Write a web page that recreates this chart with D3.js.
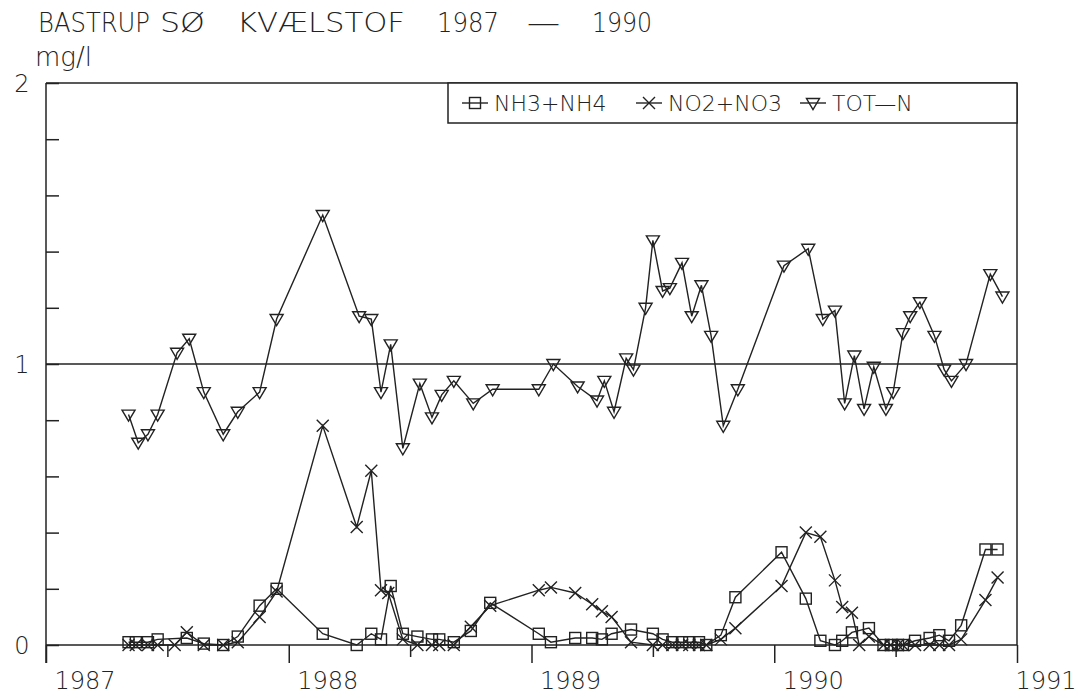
<!DOCTYPE html>
<html><head><meta charset="utf-8">
<script src="https://cdn.jsdelivr.net/npm/d3@7"></script>
<style>
body{margin:0;background:#fff;}
svg{display:block;}
text{font-family:"DejaVu Sans",sans-serif;font-weight:200;fill:#222;}
</style></head>
<body><svg id="c" width="1078" height="698"></svg>
<script>
const titleWords = ["BASTRUP", "SØ", "KVÆLSTOF", "1987", "—", "1990"];
const unitText = "mg/l";
const yTickLabels = [0, 1, 2];
const xTickLabels = [1987, 1988, 1989, 1990, 1991];
const seriesNames = ["NH3+NH4", "NO2+NO3", "TOT—N"];

const totnDates = [1987.34,1987.38,1987.42,1987.46,1987.54,1987.59,1987.65,1987.73,1987.79,1987.88,1987.95,1988.14,1988.29,1988.34,1988.38,1988.42,1988.47,1988.54,1988.59,1988.63,1988.68,1988.76,1988.84,1989.03,1989.09,1989.19,1989.27,1989.30,1989.34,1989.39,1989.42,1989.47,1989.50,1989.54,1989.57,1989.62,1989.66,1989.70,1989.74,1989.79,1989.85,1990.04,1990.14,1990.20,1990.25,1990.29,1990.33,1990.37,1990.41,1990.46,1990.49,1990.53,1990.56,1990.60,1990.66,1990.70,1990.73,1990.79,1990.89,1990.94];
const totnValues = [0.82,0.72,0.75,0.82,1.04,1.09,0.90,0.75,0.83,0.90,1.16,1.53,1.17,1.16,0.90,1.07,0.70,0.93,0.81,0.89,0.94,0.86,0.91,0.91,1.00,0.92,0.87,0.94,0.83,1.02,0.98,1.20,1.44,1.26,1.27,1.36,1.17,1.28,1.10,0.78,0.91,1.35,1.41,1.16,1.19,0.86,1.03,0.84,0.99,0.84,0.90,1.11,1.17,1.22,1.10,0.98,0.94,1.00,1.32,1.24];

const nh4Dates = [1987.34,1987.37,1987.42,1987.46,1987.58,1987.65,1987.73,1987.79,1987.88,1987.95,1988.14,1988.28,1988.34,1988.38,1988.42,1988.47,1988.53,1988.59,1988.62,1988.68,1988.75,1988.83,1989.03,1989.08,1989.18,1989.25,1989.29,1989.33,1989.41,1989.50,1989.54,1989.58,1989.62,1989.65,1989.69,1989.72,1989.78,1989.84,1990.03,1990.13,1990.19,1990.25,1990.28,1990.32,1990.39,1990.45,1990.48,1990.51,1990.53,1990.58,1990.64,1990.68,1990.72,1990.77,1990.87,1990.92];
const nh4Values = [0.01,0.01,0.01,0.02,0.025,0.005,0.0,0.03,0.14,0.20,0.04,0.0,0.04,0.02,0.21,0.04,0.03,0.02,0.02,0.01,0.05,0.15,0.04,0.01,0.025,0.025,0.02,0.04,0.055,0.04,0.02,0.01,0.01,0.01,0.01,0.0,0.035,0.17,0.33,0.165,0.015,0.0,0.015,0.045,0.06,0.0,0.0,0.0,0.0,0.015,0.025,0.035,0.015,0.07,0.34,0.34];

const no3Dates = [1987.34,1987.37,1987.42,1987.46,1987.53,1987.58,1987.65,1987.73,1987.79,1987.88,1987.95,1988.14,1988.28,1988.34,1988.38,1988.41,1988.47,1988.53,1988.59,1988.62,1988.68,1988.75,1988.83,1989.03,1989.08,1989.18,1989.25,1989.29,1989.33,1989.41,1989.50,1989.54,1989.58,1989.62,1989.65,1989.69,1989.72,1989.78,1989.84,1990.03,1990.13,1990.19,1990.25,1990.28,1990.32,1990.35,1990.39,1990.45,1990.48,1990.51,1990.53,1990.58,1990.64,1990.68,1990.72,1990.77,1990.87,1990.92];
const no3Values = [0.0,0.0,0.0,0.0,0.0,0.045,0.0,0.0,0.01,0.10,0.19,0.78,0.42,0.62,0.195,0.185,0.02,0.0,0.0,0.0,0.0,0.065,0.14,0.195,0.205,0.185,0.145,0.12,0.10,0.01,0.0,0.0,0.0,0.0,0.0,0.0,0.0,0.02,0.06,0.21,0.40,0.385,0.23,0.135,0.115,0.0,0.03,0.0,0.0,0.0,0.0,0.0,0.0,0.0,0.0,0.02,0.16,0.24];

const L = 46, R = 1017, T = 83, B = 645;
const svg = d3.select("#c");
const ink = "#222";

const x = d3.scaleLinear().domain([1987, 1991]).range([L, R]);
const y = d3.scaleLinear().domain([0, 2]).range([B, T]);

// title (word positions mimic the wide plotter spacing)
const titleX = [38, 160, 237, 437, 527, 592];
const titleW = [112, 45, 168, 62, 33, 60];
titleWords.forEach((w, i) => {
  svg.append("text").attr("x", titleX[i]).attr("y", 32).attr("font-size", 26)
    .attr("textLength", titleW[i]).attr("lengthAdjust", "spacingAndGlyphs").text(w);
});
svg.append("text").attr("x", 35).attr("y", 66).attr("font-size", 26).text(unitText);

// frame
const g = svg.append("g");
g.append("line").attr("x1", L).attr("x2", R).attr("y1", T).attr("y2", T).attr("stroke", ink).attr("stroke-width", 1.5);
g.append("line").attr("x1", R).attr("x2", R).attr("y1", T).attr("y2", B).attr("stroke", ink).attr("stroke-width", 1.5);
g.append("line").attr("x1", L).attr("x2", R).attr("y1", y(1)).attr("y2", y(1)).attr("stroke", ink).attr("stroke-width", 1.5);

// y axis
const yAxis = d3.axisRight(y).tickValues(d3.range(0, 2.0001, 0.2)).tickSize(13).tickFormat("");
const ya = g.append("g").attr("transform", `translate(${L},0)`).call(yAxis);
ya.select(".domain").attr("stroke", ink).attr("stroke-width", 1.5).attr("d", `M0,${T}V${B + 18}`);
ya.selectAll(".tick line").attr("stroke", ink).attr("stroke-width", 1.5);
svg.selectAll(".ylab").data(yTickLabels).enter().append("text")
  .attr("x", 22).attr("y", d => y(d) + 9).attr("text-anchor", "middle").attr("font-size", 24).text(d => d);

// x axis
const xAxis = d3.axisBottom(x).tickValues(d3.range(1987, 1991.001, 0.5)).tickSize(12).tickFormat("");
const xa = g.append("g").attr("transform", `translate(0,${B})`).call(xAxis);
xa.select(".domain").attr("stroke", ink).attr("stroke-width", 1.5).attr("d", `M${L},0H${R}`);
xa.selectAll(".tick line").attr("stroke", ink).attr("stroke-width", 1.5)
  .attr("y2", d => Number.isInteger(d) ? 18 : 12);
svg.selectAll(".xlab").data(xTickLabels).enter().append("text")
  .attr("x", d => Math.min(x(d) + 39, 1046)).attr("y", 689).attr("text-anchor", "middle").attr("font-size", 24).text(d => d);

// markers
function square(sel){ sel.append("rect").attr("x", -5.5).attr("y", -5.5).attr("width", 11).attr("height", 11)
  .attr("fill", "none").attr("stroke", ink).attr("stroke-width", 1.4); }
function cross(sel){ sel.append("path").attr("d", "M-6,-6L6,6M-6,6L6,-6").attr("fill", "none").attr("stroke", ink).attr("stroke-width", 1.4); }
function tri(sel){ sel.append("path").attr("d", "M-6.5,-4.5L6.5,-4.5L0,6.5Z").attr("fill", "none").attr("stroke", ink).attr("stroke-width", 1.4); }

const series = [
  {name: seriesNames[0], dates: nh4Dates, values: nh4Values, mk: square},
  {name: seriesNames[1], dates: no3Dates, values: no3Values, mk: cross},
  {name: seriesNames[2], dates: totnDates, values: totnValues, mk: tri}
];
const line = d3.line().x(d => x(d[0])).y(d => y(d[1]));
series.forEach(s => {
  const pts = s.dates.map((d, i) => [d, s.values[i]]);
  g.append("path").attr("d", line(pts)).attr("fill", "none").attr("stroke", ink).attr("stroke-width", 1.4);
  g.selectAll(null).data(pts).enter().append("g")
    .attr("transform", d => `translate(${x(d[0])},${y(d[1])})`).call(s.mk);
});

// legend
const lg = svg.append("g");
const legL = 448;
lg.append("rect").attr("x", legL).attr("y", T).attr("width", R - legL).attr("height", 40)
  .attr("fill", "#fff").attr("stroke", ink).attr("stroke-width", 1.5);
const legX = [462, 636, 800];
series.forEach((s, i) => {
  const gx = legX[i];
  lg.append("line").attr("x1", gx).attr("x2", gx + 26).attr("y1", 103).attr("y2", 103).attr("stroke", ink).attr("stroke-width", 1.4);
  lg.append("g").attr("transform", `translate(${gx + 13},103)`).call(s.mk);
  lg.append("text").attr("x", gx + 32).attr("y", 111).attr("font-size", 22).text(s.name);
});
</script></body></html>
